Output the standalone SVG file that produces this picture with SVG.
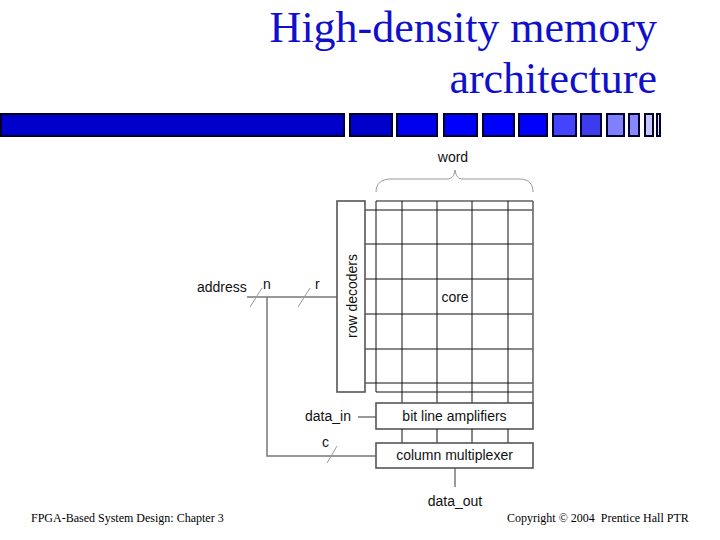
<svg xmlns="http://www.w3.org/2000/svg" width="720" height="540" viewBox="0 0 720 540">
<style>
.title{font-family:"Liberation Serif","Times New Roman",serif;font-size:44px;fill:#1010cc;text-anchor:end}
.foot{font-family:"Liberation Serif","Times New Roman",serif;font-size:12px;fill:#000;white-space:pre}
.lbl{font-family:"Liberation Sans",Arial,sans-serif;font-size:14px;fill:#111}
.mid{text-anchor:middle}
.bar{stroke:#00002a;stroke-width:2}
.box{fill:#fff;stroke:#555;stroke-width:1.6}
.grid{stroke:#111;stroke-width:1;fill:none}
.wire{stroke:#777;stroke-width:1.5;fill:none}
.slash{stroke:#999;stroke-width:1;fill:none}
</style>
<rect width="720" height="540" fill="#fff"/>
<g id="title">
<text class="title" x="657" y="42">High-density memory</text>
<text class="title" x="657" y="93">architecture</text>
</g>
<g id="bars">
<rect class="bar" x="1" y="114" width="343" height="22" fill="#0000cc"/>
<rect class="bar" x="350" y="114" width="42" height="22" fill="#0000cc"/>
<rect class="bar" x="397" y="114" width="40" height="22" fill="#0000ee"/>
<rect class="bar" x="444" y="114" width="33" height="22" fill="#0000ff"/>
<rect class="bar" x="483" y="114" width="31" height="22" fill="#0000ff"/>
<rect class="bar" x="519" y="114" width="28" height="22" fill="#0000ff"/>
<rect class="bar" x="553" y="114" width="23" height="22" fill="#4444ff"/>
<rect class="bar" x="581" y="114" width="20" height="22" fill="#3c3cee"/>
<rect class="bar" x="607" y="114" width="17" height="22" fill="#8080ff"/>
<rect class="bar" x="629" y="114" width="10" height="22" fill="#8888ff"/>
<rect class="bar" x="645" y="114" width="8" height="22" fill="#c4c4ff"/>
<rect class="bar" x="657" y="114" width="3" height="22" fill="#e0e0ff"/>
</g>
<g id="connectors">
<path class="wire" d="M247,297 H337"/>
<path class="wire" d="M267,297 V456 H376"/>
<path class="wire" d="M358,417 H376"/>
<path class="wire" d="M455,468 V487"/>
<path class="slash" d="M250,307 L262,288"/>
<path class="slash" d="M298,307 L310,288"/>
<path class="slash" d="M327,463 L337,446"/>
<path d="M376,192 C376,184 381,179 391,179 L447,179 C452,179 454,176 455,170 C456,176 458,179 463,179 L519,179 C529,179 533,184 533,192" fill="none" stroke="#999" stroke-width="1"/>
</g>
<g id="core">
<path class="grid" d="M376,201 H533 M365,210 H533 M365,244 H533 M365,279 H533 M365,314 H533 M365,349 H533 M365,383 H533 M376,392 H533"/>
<path class="grid" d="M376,201 V392 M402,201 V403 M437,201 V403 M472,201 V403 M508,201 V403"/>
<path d="M533,201 V403" stroke="#666" stroke-width="1.6"/>
<text class="lbl mid" x="455" y="302">core</text>
</g>
<g id="row-decoders">
<rect class="box" x="337" y="201" width="28" height="191"/>
<text class="lbl mid" transform="translate(357,296) rotate(-90)">row decoders</text>
</g>
<g id="bit-line-amplifiers">
<rect class="box" x="376" y="403" width="157" height="26"/>
<text class="lbl mid" x="454.5" y="421">bit line amplifiers</text>
</g>
<path class="grid" d="M402,429 V443 M437,429 V443 M472,429 V443 M508,429 V443"/>
<g id="column-multiplexer">
<rect class="box" x="376" y="443" width="157" height="25"/>
<text class="lbl mid" x="454.5" y="460">column multiplexer</text>
</g>
<g id="labels">
<text class="lbl" x="197" y="292">address</text>
<text class="lbl" x="263" y="289">n</text>
<text class="lbl" x="315" y="289">r</text>
<text class="lbl" x="305" y="421">data_in</text>
<text class="lbl" x="322" y="447">c</text>
<text class="lbl mid" x="455" y="506">data_out</text>
<text class="lbl mid" x="453" y="162">word</text>
</g>
<g id="footer">
<text class="foot" x="31" y="522">FPGA-Based System Design: Chapter 3</text>
<text class="foot" x="507" y="522">Copyright © 2004  Prentice Hall PTR</text>
</g>
</svg>
